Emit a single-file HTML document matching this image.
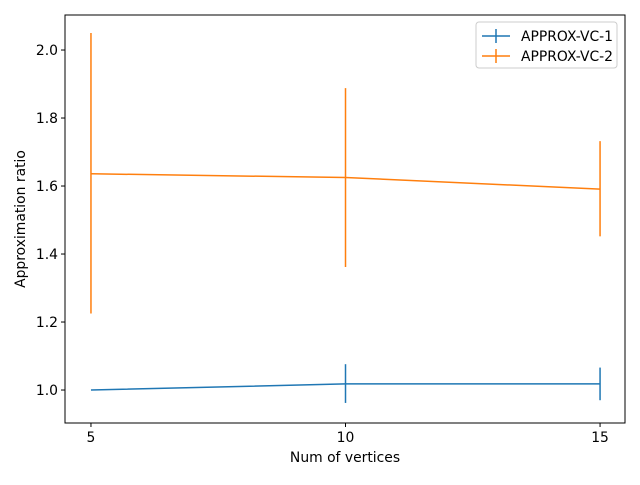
<!DOCTYPE html>
<html><head><meta charset="utf-8"><style>body{margin:0;background:#fff}svg{font-family:"DejaVu Sans","Liberation Sans",sans-serif}</style></head>
<body>
<svg id="chart" width="640" height="480"></svg>
<script>
const categories=[5,10,15];
const series1=[1.0,1.018,1.018];
const series1ErrLow=[1.0,0.962,0.970];
const series1ErrHigh=[1.0,1.076,1.066];
const series2=[1.636,1.625,1.591];
const series2ErrLow=[1.225,1.362,1.452];
const series2ErrHigh=[2.05,1.888,1.732];
const xTicks=[5,10,15];
const yTicks=[1.0,1.2,1.4,1.6,1.8,2.0];
const L=65,R=625,T=15,B=423;
const xmin=4.49,xmax=15.49,ymin=0.903,ymax=2.103;
const FS=13.9;
const sx=v=>L+(v-xmin)/(xmax-xmin)*(R-L);
const sy=v=>B-(v-ymin)/(ymax-ymin)*(B-T);
const svg=document.getElementById('chart');
const NS='http://www.w3.org/2000/svg';
function mk(tag,attrs,parent){const e=document.createElementNS(NS,tag);for(const k in attrs)e.setAttribute(k,attrs[k]);(parent||svg).appendChild(e);return e;}
const frame=mk('rect',{x:L,y:T,width:R-L,height:B-T,fill:'none',stroke:'#000','stroke-width':1});


xTicks.forEach(t=>{const x=sx(t);
const tk=mk('line',{x1:x,x2:x,y1:B,y2:B+4,stroke:'#000'});


const tx=mk('text',{x:x,y:B+19,'text-anchor':'middle','font-size':FS});tx.textContent=t;

});
yTicks.forEach(t=>{const y=sy(t);
const tk=mk('line',{x1:L-4,x2:L,y1:y,y2:y,stroke:'#000'});


const tx=mk('text',{x:L-7,y:y+5,'text-anchor':'end','font-size':FS});tx.textContent=t.toFixed(1);

});
const xl=mk('text',{x:(L+R)/2,y:462,'text-anchor':'middle','font-size':FS});xl.textContent='Num of vertices';


const yl=mk('text',{x:0,y:0,'text-anchor':'middle','font-size':FS,transform:`translate(25,${(T+B)/2}) rotate(-90)`});yl.textContent='Approximation ratio';


function drawSeries(vals,lo,hi,color,name){
const pl=mk('polyline',{points:categories.map((c,i)=>sx(c)+','+sy(vals[i])).join(' '),fill:'none',stroke:color,'stroke-width':1.5});


categories.forEach((c,i)=>{const e=mk('line',{x1:sx(c),x2:sx(c),y1:sy(lo[i]),y2:sy(hi[i]),stroke:color,'stroke-width':1.5});

});}
drawSeries(series1,series1ErrLow,series1ErrHigh,'#1f77b4','approx-vc-1');
drawSeries(series2,series2ErrLow,series2ErrHigh,'#ff7f0e','approx-vc-2');
const lg=mk('g',{});


mk('rect',{x:476,y:22,width:141,height:46,rx:3,fill:'#fff',stroke:'#ccc'},lg);
[['APPROX-VC-1','#1f77b4',36],['APPROX-VC-2','#ff7f0e',56]].forEach(([n,c,y])=>{
const g=mk('g',{},lg);


mk('line',{x1:482,x2:510,y1:y,y2:y,stroke:c,'stroke-width':1.5},g);
mk('line',{x1:496,x2:496,y1:y-7,y2:y+7,stroke:c,'stroke-width':1.5},g);
const t=mk('text',{x:521,y:y+5,'font-size':FS},g);t.textContent=n;});
</script>
</body></html>
